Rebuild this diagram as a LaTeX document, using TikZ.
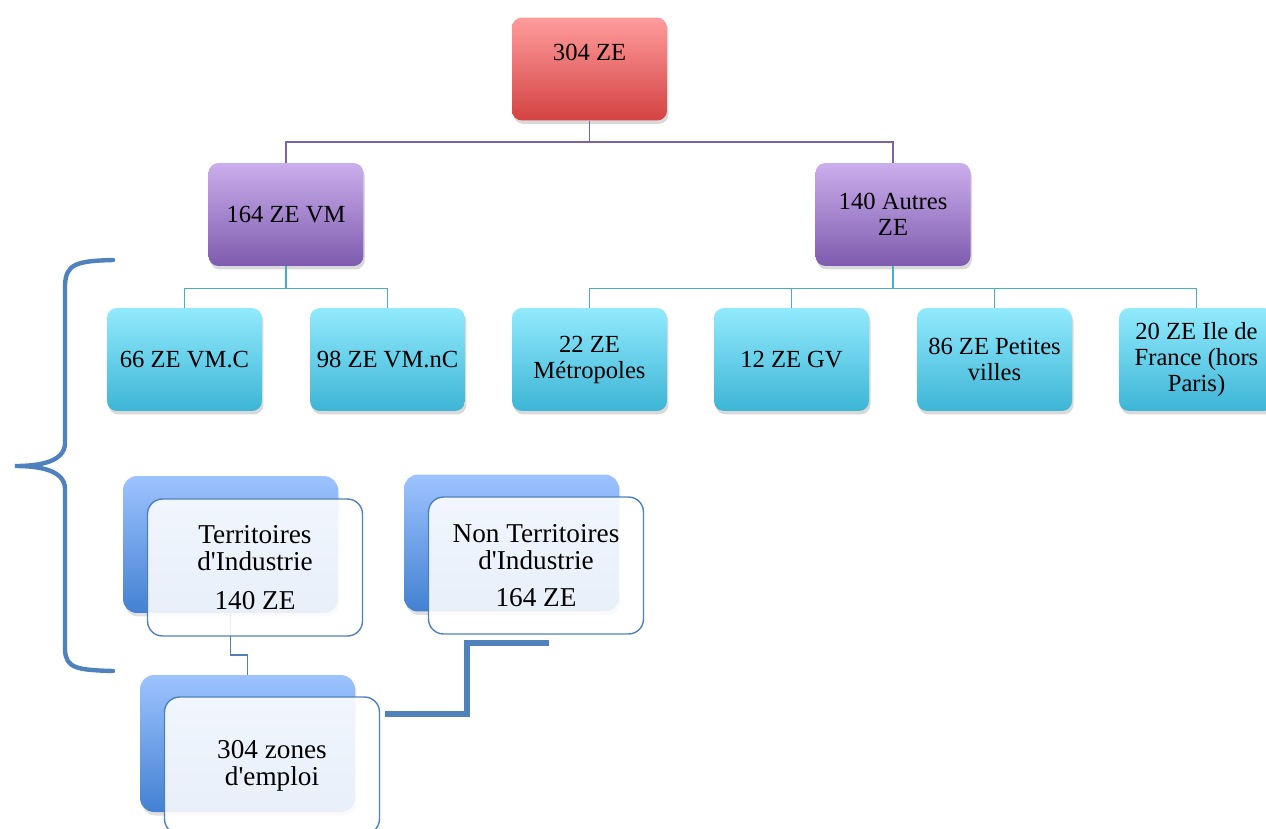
\documentclass[tikz,border=0pt]{standalone}
\usepackage{fontspec}
\setmainfont{Liberation Serif}
\usepackage{xcolor}
\usetikzlibrary{positioning, shadows}
\definecolor{redtop}{HTML}{FF9C9C}
\definecolor{redbot}{HTML}{D44242}
\definecolor{purtop}{HTML}{CBAEEC}
\definecolor{purbot}{HTML}{7E5BAE}
\definecolor{cyantop}{HTML}{92EAFD}
\definecolor{cyanbot}{HTML}{3DB5D6}
\definecolor{bluetop}{HTML}{9DC3FF}
\definecolor{bluebot}{HTML}{4381D2}
\definecolor{blueline}{HTML}{4F81BD}
\definecolor{purline}{HTML}{8064A2}
\definecolor{tealline}{HTML}{4BACC6}

\begin{document}
\begin{tikzpicture}[x=0.02cm, y=-0.02cm, font=\fontsize{14}{14.8}\selectfont,
    box/.style={rounded corners=0.2cm, minimum width=3.1cm, minimum height=2.06cm,
        align=center, inner sep=2pt,
        drop shadow={shadow xshift=0.03cm, shadow yshift=-0.07cm, opacity=0.3}},
    rootbox/.style={box, top color=redtop, bottom color=redbot, text depth=0.68cm},
    vmbox/.style={box, top color=purtop, bottom color=purbot},
    leafbox/.style={box, top color=cyantop, bottom color=cyanbot},
    backbox/.style={rounded corners=0.28cm, minimum width=4.3cm, minimum height=2.74cm,
        top color=bluetop, bottom color=bluebot,
        drop shadow={shadow xshift=0.03cm, shadow yshift=-0.07cm, opacity=0.25}},
    frontbox/.style={rounded corners=0.3cm, minimum width=4.3cm, minimum height=2.74cm,
        align=center, draw=blueline, line width=0.8pt, fill=white, fill opacity=0.88,
        text opacity=1, font=\fontsize{15.5}{15.4}\selectfont},
    purlink/.style={draw=purline, line width=0.9pt},
    teallink/.style={draw=tealline, line width=0.9pt},
    bluelink/.style={draw=blueline, line width=1.1pt}]

    \clip (0,0) rectangle (1266,828);

    \node[rootbox] (ze) at (589.5,69) {304 ZE};
    \node[vmbox] (vm) at (286,214.5) {164 ZE VM};
    \node[vmbox] (autres) at (893,214.5) {140 Autres\\ZE};

    \node[leafbox] (vmc) at (184.5,359.5) {66 ZE VM.C};
    \node[leafbox] (vmnc) at (387.5,359.5) {98 ZE VM.nC};
    \node[leafbox] (metro) at (589.5,359.5) {22 ZE\\Métropoles};
    \node[leafbox] (gv) at (791.5,359.5) {12 ZE GV};
    \node[leafbox] (pv) at (994.5,359.5) {86 ZE Petites\\villes};
    \node[leafbox] (idf) at (1196.5,359.5) {20 ZE Ile de\\France (hors\\Paris)};

    \draw[purlink] (ze.south) -- ++(0,21) -| (vm.north);
    \draw[purlink] (ze.south) -- ++(0,21) -| (autres.north);
    \draw[teallink] (vm.south) -- ++(0,22) -| (vmc.north);
    \draw[teallink] (vm.south) -- ++(0,22) -| (vmnc.north);
    \draw[teallink] (autres.south) -- ++(0,22) -| (metro.north);
    \draw[teallink] (autres.south) -- ++(0,22) -| (gv.north);
    \draw[teallink] (autres.south) -- ++(0,22) -| (pv.north);
    \draw[teallink] (autres.south) -- ++(0,22) -| (idf.north);

    \draw[blueline, line width=2.5pt, line cap=round]
        (113,260) .. controls (76,261) and (66,264) .. (65,285) -- (65,444)
        .. controls (64,461) and (42,466) .. (15,466)
        .. controls (42,466) and (64,471) .. (65,488) -- (65,650)
        .. controls (66,668) and (76,670) .. (113,671);

    \node[backbox] (terrB) at (230.5,544.5) {};
    \node[backbox] (nonterrB) at (511.5,543) {};
    \node[backbox] (zonesB) at (247.5,743.5) {};

    \draw[bluelink] (terrB.south) -- ++(0,42) -| (zonesB.north);

    \node[frontbox] (terr) at (255,567.5) {Territoires\\d\textquotesingle Industrie\\[7pt]140 ZE};
    \node[frontbox] (nonterr) at (536,565.5) {Non Territoires\\d\textquotesingle Industrie\\[6pt]164 ZE};
    \node[frontbox] (zones) at (272,765.5) {304 zones\\d\textquotesingle emploi};

    \draw[blueline, line width=3.4pt]
        ([xshift=0.1cm, yshift=-0.36cm]zones.north east) -- ++(82,0)
        |- ([xshift=0.26cm, yshift=-0.16cm]nonterr.south);
\end{tikzpicture}
\end{document}
